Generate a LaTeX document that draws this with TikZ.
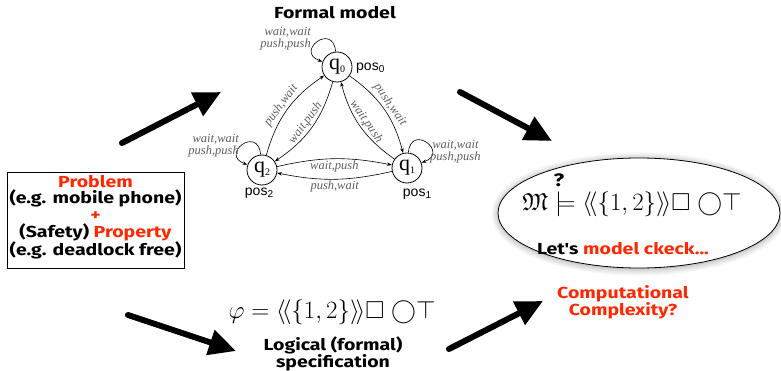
\documentclass[tikz,border=0pt]{standalone}
\usepackage{amsmath,amssymb}
\usepackage{fontspec}
\newfontfamily\bsans{Fira Sans}[FakeStretch=1.22]
\newfontfamily\lserif{Liberation Serif}
\newfontfamily\lsans{Liberation Sans}
\usetikzlibrary{arrows.meta,shapes.geometric,shadows.blur}
\definecolor{myred}{RGB}{255,40,0}
\definecolor{lblgray}{RGB}{95,95,95}
\tikzset{
  bigarrow/.style={line width=6pt,line cap=round,-{Triangle[length=27pt,width=25pt]}},
  state/.style={circle,draw,line width=0.8pt,minimum size=30pt,inner sep=0pt,
    font=\lserif\fontsize{22}{22}\selectfont},
  aut/.style={line width=0.6pt,-{Stealth[length=5pt,width=3.5pt]}},
  lbl/.style={font=\lserif\itshape\fontsize{12.5}{12.5}\selectfont,text=lblgray,inner sep=1.5pt},
  loopl/.style={font=\lserif\itshape\fontsize{12.5}{12}\selectfont,text=lblgray,inner sep=0pt},
  postxt/.style={font=\lsans\fontsize{14}{14}\selectfont,inner sep=0pt},
  btxt/.style={font=\bsans\bfseries\fontsize{16}{16.75}\selectfont,align=center,inner sep=0pt},
}
\newcommand{\sub}[1]{\raisebox{-2.5pt}{\fontsize{10}{10}\selectfont #1}}
\begin{document}
\begin{tikzpicture}[x=1pt,y=1pt]
\useasboundingbox (0,0) rectangle (781,370);
% formal model
\node[btxt] (title) at (335,357) {Formal model};
\node[state] (q0) at (337,303) {q\sub{0}};
\node[state] (q1) at (407,202) {q\sub{1}};
\node[state] (q2) at (262,200) {q\sub{2}};
\node[postxt,anchor=west] (p0) at (356,302) {pos\sub{0}};
\node[postxt] (p2) at (259,177) {pos\sub{2}};
\node[postxt] (p1) at (417,176) {pos\sub{1}};
\draw[aut] (q0) to[bend left=20] node[lbl,sloped,above] {push,wait} (q1);
\draw[aut] (q1) to[bend left=20] node[lbl,sloped,above] {wait,push} (q0);
\draw[aut] (q2) to[bend left=20] node[lbl,sloped,above] {push,wait} (q0);
\draw[aut] (q0) to[bend left=20] node[lbl,sloped,above] {wait,push} (q2);
\draw[aut] (q2) to[bend left=12] node[lbl,below] {wait,push} (q1);
\draw[aut] (q1) to[bend left=12] node[lbl,below] {push,wait} (q2);
\draw[aut] (q0) to[out=95,in=160,distance=30pt] (q0);
\draw[aut] (q2) to[out=95,in=160,distance=30pt] (q2);
\draw[aut] (q1) to[out=85,in=20,distance=30pt] (q1);
\node[loopl,anchor=east,align=right] (l0) at (311,331) {wait,wait\\push,push};
\node[loopl,anchor=east,align=right] (l2) at (239,224) {wait,wait\\push,push};
\node[loopl,anchor=west,align=center] (l1) at (430,218) {wait,wait\\push,push};
% problem box
\node[draw,line width=0.8pt,minimum width=177pt,minimum height=96pt,inner sep=0pt] (box) at (95.5,150) {};
\node[btxt] (boxtxt) at (95.5,153) {\textcolor{myred}{Problem}\\(e.g. mobile phone)\\\textcolor{myred}{+}\\(Safety) \textcolor{myred}{Property}\\(e.g. deadlock free)};
% model checking ellipse
\node[ellipse,draw,line width=0.8pt,fill=white,minimum width=282pt,minimum height=110pt,inner sep=0pt,
  blur shadow={shadow xshift=0pt,shadow yshift=-1pt,shadow blur radius=7pt,shadow blur steps=10}] (mc) at (639,157) {};
\node[inner sep=0pt] (mcf) at (632,166) {\fontsize{24.5}{28}\selectfont$\mathfrak{M}\models\langle\!\langle\{1,2\}\rangle\!\rangle\Box\;{\bigcirc}\top$};
\node[btxt,font=\bsans\bfseries\fontsize{18}{18}\selectfont] (qm) at (559,190) {?};
\node[btxt] (lets) at (623,121) {Let's \textcolor{myred}{model ckeck...}};
\node[btxt,text=myred] (cc) at (623,68) {Computational\\Complexity?};
% specification
\node[inner sep=0pt] (phi) at (332,58) {\fontsize{24.5}{28}\selectfont$\varphi=\langle\!\langle\{1,2\}\rangle\!\rangle\Box\;{\bigcirc}\top$};
\node[btxt] (spec) at (333,16) {Logical (formal)\\specification};
% big arrows
\coordinate (a1s) at (122,227); \coordinate (a1e) at (221,278);
\coordinate (a2s) at (460,278); \coordinate (a2e) at (552,229);
\coordinate (a3s) at (128,55);  \coordinate (a3e) at (236,19);
\coordinate (a4s) at (449,21);  \coordinate (a4e) at (543,69);
\draw[bigarrow] (a1s) -- (a1e);
\draw[bigarrow] (a2s) -- (a2e);
\draw[bigarrow] (a3s) -- (a3e);
\draw[bigarrow] (a4s) -- (a4e);
\end{tikzpicture}
\end{document}
